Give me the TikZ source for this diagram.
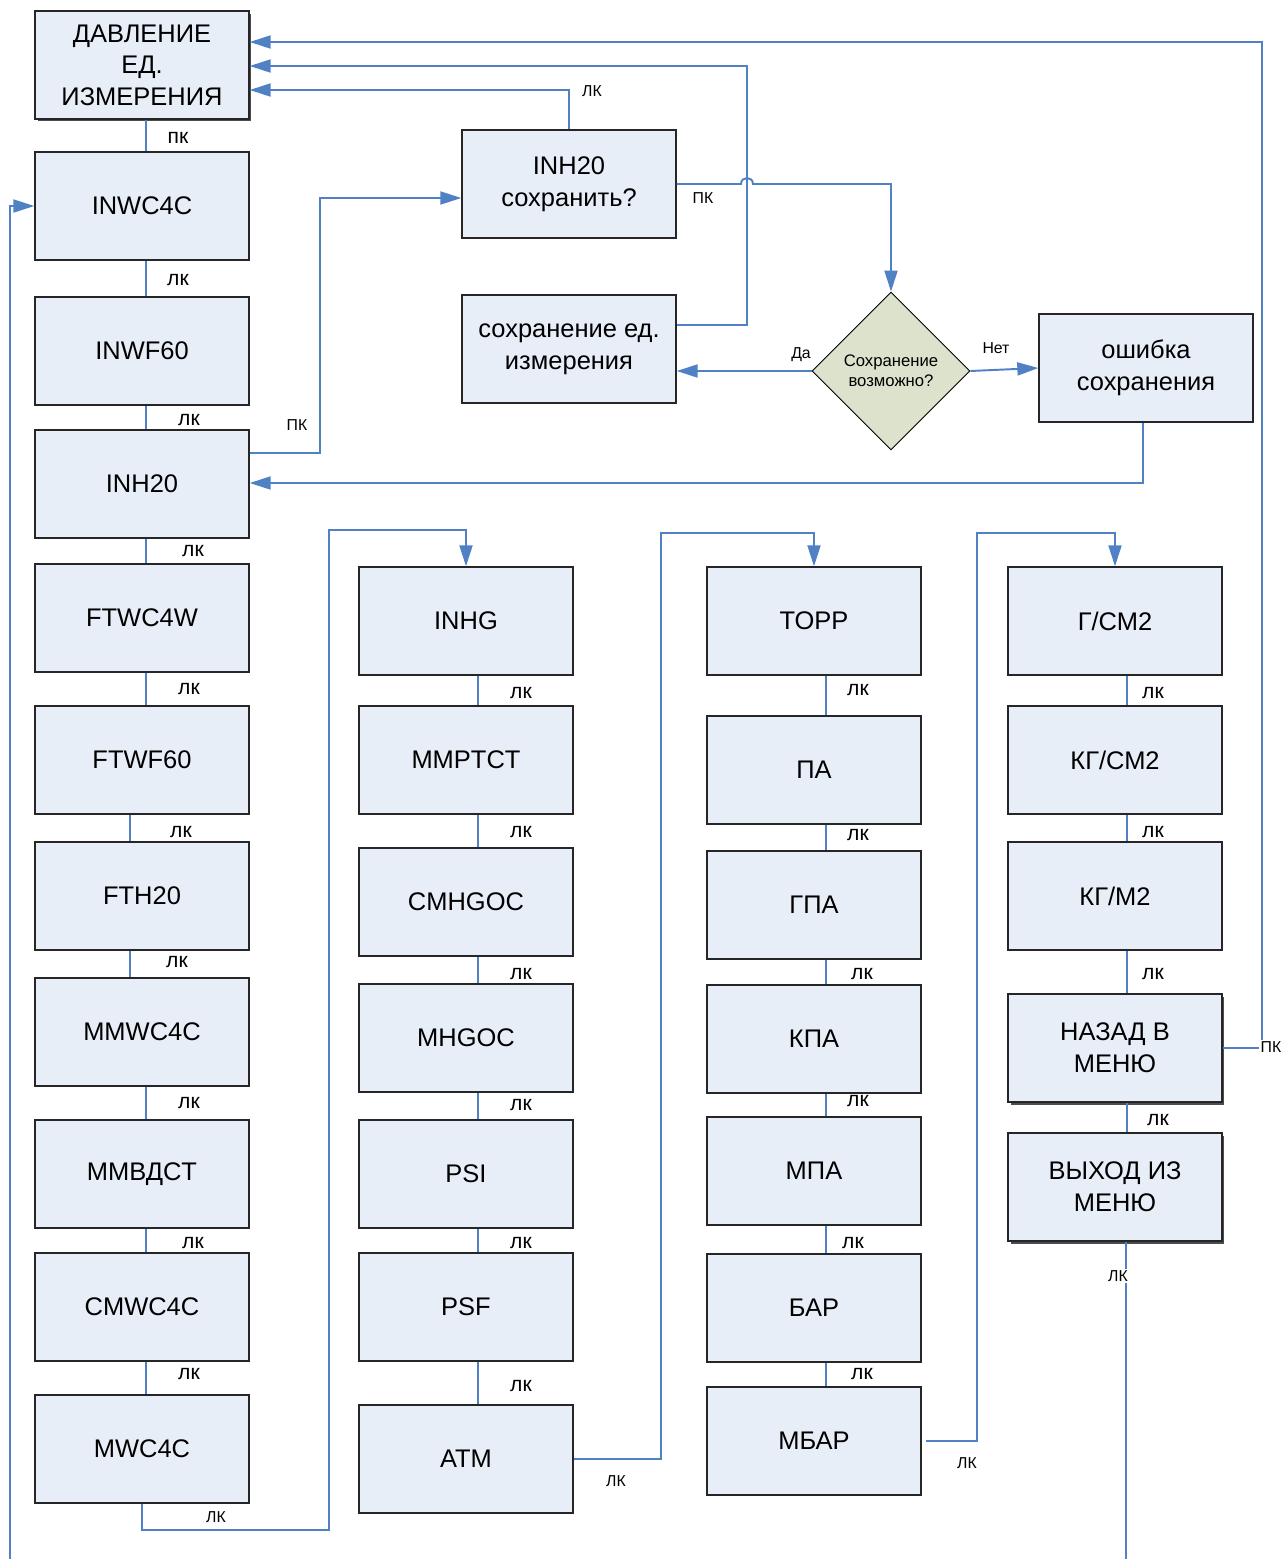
\documentclass[tikz,border=0pt]{standalone}
\usepackage{fontspec}
\setmainfont{Liberation Sans}
\usepackage{xcolor}
\usepackage{tikz}
\usetikzlibrary{arrows.meta, calc, positioning, shapes.geometric, shadows}
\definecolor{BoxFill}{RGB}{232,238,248}
\definecolor{DiaFill}{RGB}{221,226,205}
\definecolor{LinkBlue}{RGB}{79,129,196}

\tikzset{
  menubox/.style={draw=black!85, line width=0.8pt, fill=BoxFill, minimum width=4.28cm,
    minimum height=2.16cm, inner sep=0pt, align=center, font=\fontsize{14.5}{18}\selectfont},
  shadowbox/.style={menubox, drop shadow={shadow xshift=0.05cm, shadow yshift=-0.05cm,
    fill=black!70, opacity=1}},
  checkbox/.style={diamond, draw=black, line width=0.5pt, fill=DiaFill, aspect=1,
    minimum width=3.16cm, minimum height=3.16cm, inner sep=0pt, align=center,
    font=\fontsize{9.5}{11.5}\selectfont},
  link/.style={draw=LinkBlue, line width=1.1pt},
  arrowlink/.style={link, -{Triangle[length=0.42cm, width=0.26cm]}},
  lbl/.style={font=\fontsize{12}{14}\selectfont, inner sep=1pt},
  smalllbl/.style={font=\fontsize{9}{11}\selectfont, inner sep=1pt},
}

\begin{document}
\begin{tikzpicture}[x=0.02cm, y=-0.02cm]
  \useasboundingbox (0,0) rectangle (1284,1559);

  % top part
  \node [shadowbox] (davl) at (142,65) {ДАВЛЕНИЕ\\ЕД.\\ИЗМЕРЕНИЯ};
  \node [menubox] (save) at (569,184) {INH20\\сохранить?};
  \node [menubox] (saveunit) at (569,349) {сохранение ед.\\измерения};
  \node [checkbox] (dia) at (891,371) {Сохранение\\возможно?};
  \node [menubox] (err) at (1146,368) {ошибка\\сохранения};

  % first column
  \node [menubox] (inwc4c) at (142,206) {INWC4C};
  \node [menubox] (inwf60) at (142,351) {INWF60};
  \node [menubox] (inh20) at (142,484) {INH20};
  \node [menubox] (ftwc4w) at (142,618) {FTWC4W};
  \node [menubox] (ftwf60) at (142,760) {FTWF60};
  \node [menubox] (fth20) at (142,896) {FTH20};
  \node [menubox] (mmwc4c) at (142,1032) {MMWC4C};
  \node [menubox] (mmvdst) at (142,1174) {MMВДCT};
  \node [menubox] (cmwc4c) at (142,1307) {CMWC4C};
  \node [menubox] (mwc4c) at (142,1449) {MWC4C};

  % second column
  \node [menubox] (inhg) at (466,621) {INHG};
  \node [menubox] (mmptct) at (466,760) {MMPTCT};
  \node [menubox] (cmhgoc) at (466,902) {CMHGOC};
  \node [menubox] (mhgoc) at (466,1038) {MHGOC};
  \node [menubox] (psi) at (466,1174) {PSI};
  \node [menubox] (psf) at (466,1307) {PSF};
  \node [menubox] (atm) at (466,1459) {ATM};

  % third column
  \node [menubox] (topp) at (814,621) {TOPP};
  \node [menubox] (pa) at (814,770) {ПА};
  \node [menubox] (gpa) at (814,905) {ГПА};
  \node [menubox] (kpa) at (814,1039) {КПА};
  \node [menubox] (mpa) at (814,1171) {МПА};
  \node [menubox] (bar) at (814,1308) {БАР};
  \node [menubox] (mbar) at (814,1441) {МБАР};

  % fourth column
  \node [menubox] (gsm2) at (1115,621) {Г/СМ2};
  \node [menubox] (kgsm2) at (1115,760) {КГ/СМ2};
  \node [menubox] (kgm2) at (1115,896) {КГ/М2};
  \node [shadowbox] (nazad) at (1115,1048) {НАЗАД В\\МЕНЮ};
  \node [shadowbox] (vyhod) at (1115,1187) {ВЫХОД ИЗ\\МЕНЮ};

  \coordinate (loopend) at (10,1559);
  \coordinate (exitend) at (1126,1559);

  % links in the first column
  \draw [link] (146,0 |- davl.south) -- (146,0 |- inwc4c.north) node [lbl] at (178,138) {пк};
  \draw [link] (146,0 |- inwc4c.south) -- (146,0 |- inwf60.north) node [lbl] at (178,280) {лк};
  \draw [link] (146,0 |- inwf60.south) -- (146,0 |- inh20.north) node [lbl] at (189,420) {лк};
  \draw [link] (146,0 |- inh20.south) -- (146,0 |- ftwc4w.north) node [lbl] at (193,551) {лк};
  \draw [link] (146,0 |- ftwc4w.south) -- (146,0 |- ftwf60.north) node [lbl] at (189,689) {лк};
  \draw [link] (130,0 |- ftwf60.south) -- (130,0 |- fth20.north) node [lbl] at (181,832) {лк};
  \draw [link] (130,0 |- fth20.south) -- (130,0 |- mmwc4c.north) node [lbl] at (177,962) {лк};
  \draw [link] (146,0 |- mmwc4c.south) -- (146,0 |- mmvdst.north) node [lbl] at (189,1103) {лк};
  \draw [link] (146,0 |- mmvdst.south) -- (146,0 |- cmwc4c.north) node [lbl] at (193,1243) {лк};
  \draw [link] (146,0 |- cmwc4c.south) -- (146,0 |- mwc4c.north) node [lbl] at (189,1374) {лк};

  % links in the second column
  \draw [link] (478,0 |- inhg.south) -- (478,0 |- mmptct.north) node [lbl] at (521,693) {лк};
  \draw [link] (478,0 |- mmptct.south) -- (478,0 |- cmhgoc.north) node [lbl] at (521,832) {лк};
  \draw [link] (478,0 |- cmhgoc.south) -- (478,0 |- mhgoc.north) node [lbl] at (521,974) {лк};
  \draw [link] (478,0 |- mhgoc.south) -- (478,0 |- psi.north) node [lbl] at (521,1105) {лк};
  \draw [link] (478,0 |- psi.south) -- (478,0 |- psf.north) node [lbl] at (521,1243) {лк};
  \draw [link] (478,0 |- psf.south) -- (478,0 |- atm.north) node [lbl] at (521,1386) {лк};

  % links in the third column
  \draw [link] (826,0 |- topp.south) -- (826,0 |- pa.north) node [lbl] at (858,690) {лк};
  \draw [link] (826,0 |- pa.south) -- (826,0 |- gpa.north) node [lbl] at (858,835) {лк};
  \draw [link] (826,0 |- gpa.south) -- (826,0 |- kpa.north) node [lbl] at (862,974) {лк};
  \draw [link] (826,0 |- kpa.south) -- (826,0 |- mpa.north) node [lbl] at (858,1101) {лк};
  \draw [link] (826,0 |- mpa.south) -- (826,0 |- bar.north) node [lbl] at (853,1243) {лк};
  \draw [link] (826,0 |- bar.south) -- (826,0 |- mbar.north) node [lbl] at (862,1374) {лк};

  % links in the fourth column
  \draw [link] (1127,0 |- gsm2.south) -- (1127,0 |- kgsm2.north) node [lbl] at (1153,693) {лк};
  \draw [link] (1127,0 |- kgsm2.south) -- (1127,0 |- kgm2.north) node [lbl] at (1153,832) {лк};
  \draw [link] (1127,0 |- kgm2.south) -- (1127,0 |- nazad.north) node [lbl] at (1153,974) {лк};
  \draw [link] (1127,0 |- nazad.south) -- (1127,0 |- vyhod.north) node [lbl] at (1158,1120) {лк};
  \draw [link] (1126,0 |- vyhod.south) -- (exitend)
    node [smalllbl, fill=white] at (1118,1276) {ЛК};

  % columns joined at the bottom
  \draw [arrowlink] (mwc4c.south) -- (142,1530) -- (329,1530) -- (329,530) -| (inhg.north)
    node [smalllbl] at (216,1517) {ЛК};
  \draw [arrowlink] (atm.east) -- (661,1459) -- (661,533) -| (topp.north)
    node [smalllbl] at (616,1481) {ЛК};
  \draw [arrowlink] ([xshift=0.08cm]mbar.east) -- (977,1441) -- (977,533) -| (gsm2.north)
    node [smalllbl] at (967,1463) {ЛК};
  \draw [arrowlink] (loopend) |- (inwc4c.west);

  % saving branch
  \draw [arrowlink] (inh20.east |- 0,453) -- (320,453) -- (320,198) -- (save.west |- 0,198)
    node [smalllbl] at (297,425) {ПК};
  \draw [arrowlink] (save.north) |- (davl.east |- 0,90)
    node [smalllbl] at (592,91) {ЛК};
  \draw [arrowlink] (saveunit.east |- 0,325) -- (747,325) -- (747,66) -- (davl.east |- 0,66);
  \draw [arrowlink] (save.east) -- (741,184) .. controls (741,176) and (753,176) .. (753,184)
    -| (dia.north) node [smalllbl] at (703,198) {ПК};
  \draw [arrowlink] (dia.west) -- (saveunit.east |- dia.west)
    node [smalllbl] at (801,355) {Да};
  \draw [arrowlink] (dia.east) -- (err.west)
    node [smalllbl] at (996,348) {Нет};
  \draw [arrowlink] (1143,0 |- err.south) |- (inh20.east |- 0,483);
  \draw [arrowlink] (nazad.east) -- (1262,1048) -- (1262,42) -- (davl.east |- 0,42);
  \node [smalllbl, fill=white] (pklabel) at (1271,1047) {ПК};
\end{tikzpicture}
\end{document}
